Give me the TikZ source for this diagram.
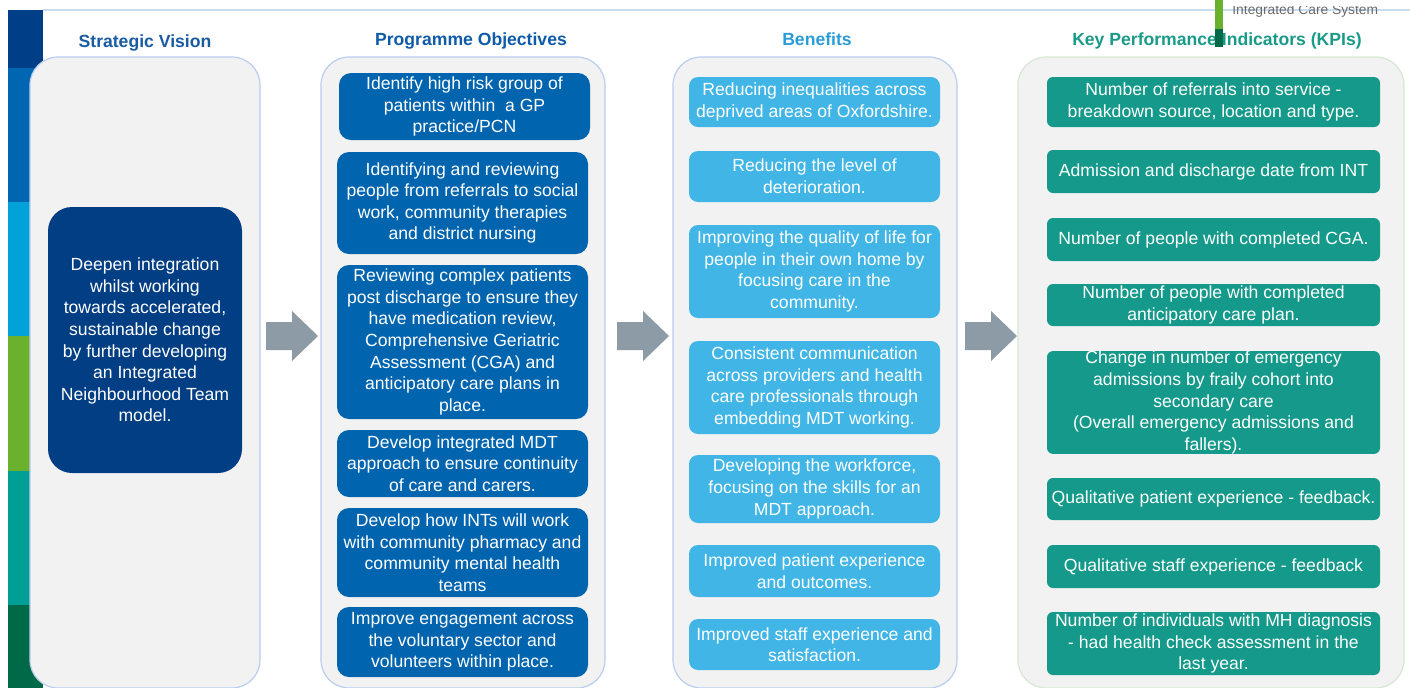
\documentclass[tikz,border=0pt]{standalone}
\usepackage{fontspec}
\setmainfont{Liberation Sans}
\definecolor{panelgray}{HTML}{F2F2F2}
\definecolor{panelblue}{HTML}{B9CDEF}
\definecolor{panelgreen}{HTML}{D6E8D0}
\definecolor{navy}{HTML}{023E84}
\definecolor{objblue}{HTML}{0064AF}
\definecolor{benblue}{HTML}{41B6E6}
\definecolor{kpiteal}{HTML}{14998A}
\definecolor{hdrnavy}{HTML}{1A5CA2}
\definecolor{hdrblue}{HTML}{0F5BA8}
\definecolor{hdrlight}{HTML}{2C9CD9}
\definecolor{hdrteal}{HTML}{1A9A88}
\definecolor{arrowgray}{HTML}{8C9BA5}
\definecolor{topline}{HTML}{C9DCF0}
\definecolor{sA}{HTML}{003F87}
\definecolor{sB}{HTML}{0066B2}
\definecolor{sC}{HTML}{00A3D9}
\definecolor{sD}{HTML}{6AB22E}
\definecolor{sE}{HTML}{009F96}
\definecolor{sF}{HTML}{006A48}
\definecolor{logogray}{HTML}{6B6B6B}
\begin{document}
\begin{tikzpicture}[x=0.5pt,y=-0.5pt,
  txt/.style={font=\fontsize{8.8}{10.8}\selectfont, text=white, align=center, inner sep=0pt},
  panel/.style={fill=panelgray, draw=panelblue, line width=0.6pt, rounded corners=14pt, inner sep=0pt},
  vbox/.style={txt, fill=navy, rounded corners=12pt, minimum width=97pt, minimum height=133pt},
  obox/.style={txt, fill=objblue, rounded corners=6pt, minimum width=125.5pt},
  bbox/.style={txt, fill=benblue, rounded corners=4.5pt, minimum width=125.5pt},
  kbox/.style={txt, fill=kpiteal, rounded corners=3pt, minimum width=166.5pt},
  hdr/.style={font=\fontsize{8.8}{10.8}\selectfont\bfseries, inner sep=0pt, anchor=base},
  blockarrow/.style={fill=arrowgray}]
\useasboundingbox (0,0) rectangle (1410,687);
\clip (0,0) rectangle (1410,687);
\fill[white] (0,0) rectangle (1410,687);

% left colour strip
\fill[sA] (8,10) rectangle (43,68);
\fill[sB] (8,68) rectangle (43,202);
\fill[sC] (8,202) rectangle (43,336);
\fill[sD] (8,336) rectangle (43,471);
\fill[sE] (8,471) rectangle (43,605);
\fill[sF] (8,605) rectangle (43,690);

% top line
\draw[topline, line width=0.6pt] (43,10) -- (1410,10);

% logo text (cropped at the top)
\begin{scope}
\clip (1225,6) rectangle (1410,30);
\node[font=\fontsize{6.9}{8}\selectfont, text=logogray, anchor=base west, inner sep=0pt] (logotext) at (1232,14) {Integrated Care System};
\end{scope}

% panels
\node[panel, minimum width=115pt, minimum height=315.5pt] (p1) at (145,372.5) {};
\node[panel, minimum width=142pt, minimum height=315.5pt] (p2) at (463,372.5) {};
\node[panel, minimum width=142pt, minimum height=315.5pt] (p3) at (815,372.5) {};
\node[panel, draw=panelgreen, minimum width=193pt, minimum height=315.5pt] (p4) at (1211,372.5) {};

% headers
\node[hdr, text=hdrnavy] (h1) at (145,47) {Strategic Vision};
\node[hdr, text=hdrblue] (h2) at (471,45) {Programme Objectives};
\node[hdr, text=hdrlight] (h3) at (817,45) {Benefits};
\node[hdr, text=hdrteal] (h4) at (1217,45) {Key Performance Indicators (KPIs)};

% logo bar
\fill[sD] (1215,0) rectangle (1223,29);
\fill[sF] (1215,29) rectangle (1223,47);

% strategic vision
\node[vbox] (v1) at (145,340) {Deepen integration\\whilst working\\towards accelerated,\\sustainable change\\by further developing\\an Integrated\\Neighbourhood Team\\model.};

% programme objectives
\node[obox, minimum height=33.5pt] (o1) at (464.5,106.5) {Identify high risk group of\\patients within\ \ a GP\\practice/PCN};
\node[obox, minimum height=51pt] (o2) at (462.5,203) {Identifying and reviewing\\people from referrals to social\\work, community therapies\\and district nursing};
\node[obox, minimum height=77pt] (o3) at (462.5,342) {Reviewing complex patients\\post discharge to ensure they\\have medication review,\\Comprehensive Geriatric\\Assessment (CGA) and\\anticipatory care plans in\\place.};
\node[obox, minimum height=33.5pt] (o4) at (462.5,463.5) {Develop integrated MDT\\approach to ensure continuity\\of care and carers.};
\node[obox, minimum height=44.5pt] (o5) at (462.5,552.5) {Develop how INTs will work\\with community pharmacy and\\community mental health\\teams};
\node[obox, minimum height=35pt] (o6) at (462.5,642) {Improve engagement across\\the voluntary sector and\\volunteers within place.};

% benefits
\node[bbox, minimum height=25pt] (b1) at (814.5,102) {Reducing inequalities across\\deprived areas of Oxfordshire.};
\node[bbox, minimum height=25.5pt] (b2) at (814.5,176.5) {Reducing the level of\\deterioration.};
\node[bbox, minimum height=46.5pt] (b3) at (814.5,271.5) {Improving the quality of life for\\people in their own home by\\focusing care in the\\community.};
\node[bbox, minimum height=46.5pt] (b4) at (814.5,387.5) {Consistent communication\\across providers and health\\care professionals through\\embedding MDT working.};
\node[bbox, minimum height=34pt] (b5) at (814.5,489) {Developing the workforce,\\focusing on the skills for an\\MDT approach.};
\node[bbox, minimum height=26pt] (b6) at (814.5,571) {Improved patient experience\\and outcomes.};
\node[bbox, minimum height=25.5pt] (b7) at (814.5,644.5) {Improved staff experience and\\satisfaction.};

% KPIs
\node[kbox, minimum height=25pt] (k1) at (1213.5,102) {Number of referrals into service -\\breakdown source, location and type.};
\node[kbox, minimum height=21.5pt] (k2) at (1213.5,171.5) {Admission and discharge date from INT};
\node[kbox, minimum height=21.5pt] (k3) at (1213.5,239.5) {Number of people with completed CGA.};
\node[kbox, minimum height=21pt] (k4) at (1213.5,305) {Number of people with completed\\anticipatory care plan.};
\node[kbox, minimum height=50.5pt] (k5) at (1213.5,402.5) {Change in number of emergency\\admissions by fraily cohort into\\secondary care\\(Overall emergency admissions and\\fallers).};
\node[kbox, minimum height=21pt] (k6) at (1213.5,499) {Qualitative patient experience - feedback.};
\node[kbox, minimum height=21.5pt] (k7) at (1213.5,566.5) {Qualitative staff experience - feedback};
\node[kbox, minimum height=31.5pt] (k8) at (1213.5,643.5) {Number of individuals with MH diagnosis\\- had health check assessment in the\\last year.};

% block arrows
\foreach \dx in {0,351,699}{
  \fill[blockarrow] (266+\dx,322) -- (292+\dx,322) -- (292+\dx,311) -- (318+\dx,336)
    -- (292+\dx,361) -- (292+\dx,350) -- (266+\dx,350) -- cycle;
}
\end{tikzpicture}
\end{document}
